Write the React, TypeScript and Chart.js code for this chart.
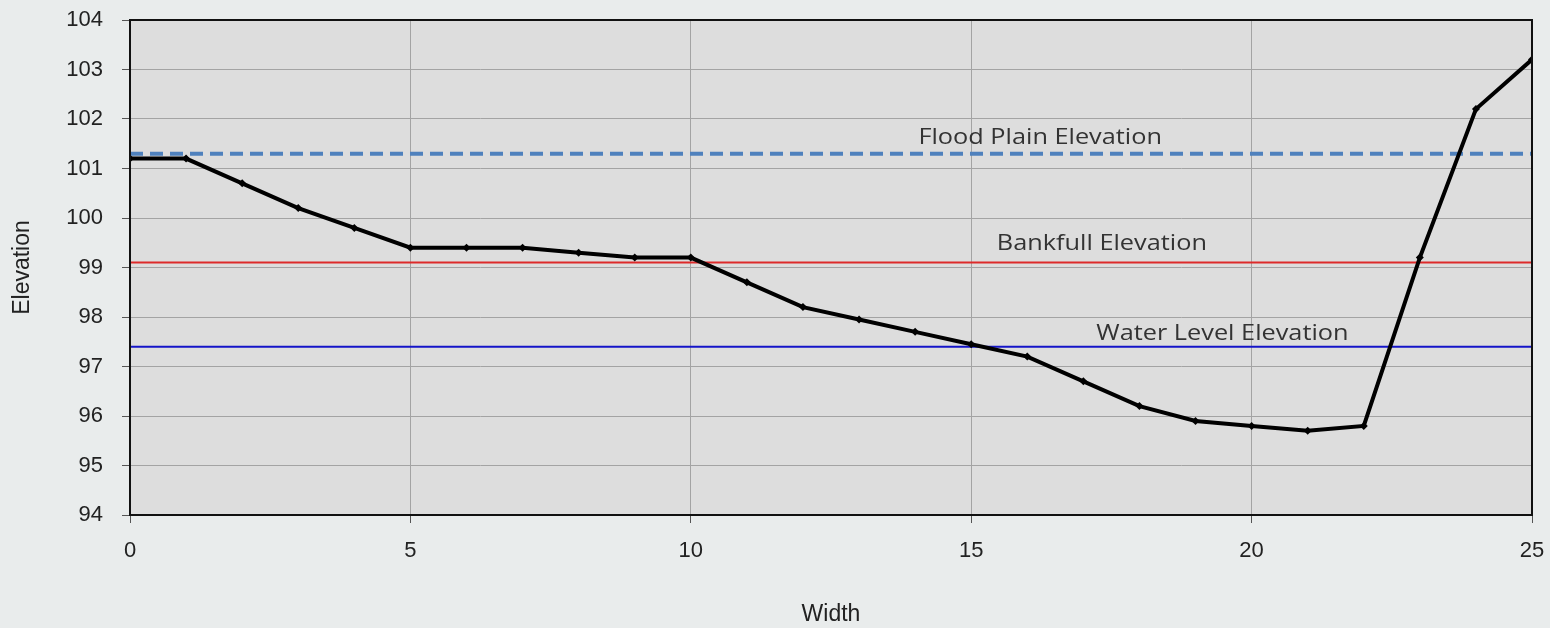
import React, { useEffect, useRef } from "react";
import { Chart, registerables } from "chart.js";

Chart.register(...registerables);

const widths = [0, 1, 2, 3, 4, 5, 6, 7, 8, 9, 10, 11, 12, 13, 14, 15, 16, 17, 18, 19, 20, 21, 22, 23, 24, 25];
const elevations = [101.2, 101.2, 100.7, 100.2, 99.8, 99.4, 99.4, 99.4, 99.3, 99.2, 99.2, 98.7, 98.2, 97.95, 97.7, 97.45, 97.2, 96.7, 96.2, 95.9, 95.8, 95.7, 95.8, 99.2, 102.2, 103.2];

const floodPlainElevation = 101.3;
const bankfullElevation = 99.1;
const waterLevelElevation = 97.4;

const levelNames = ["Flood Plain Elevation", "Bankfull Elevation", "Water Level Elevation"];
const levelLabelX = [16.23, 17.33, 19.48];
const levelLabelY = [101.5, 99.35, 97.54];

const xMin = 0;
const xMax = 25;
const yMin = 94;
const yMax = 104;

const tickFont = { family: '"Liberation Sans", Arial, sans-serif', size: 22 };
const titleFont = { family: '"Liberation Sans", Arial, sans-serif', size: 23 };

export default function App() {
  const ref = useRef<HTMLCanvasElement | null>(null);

  useEffect(() => {
    if (!ref.current) return;

    const bgPlugin = {
      id: "bgPlugin",
      beforeDraw(chart: any) {
        const { ctx, chartArea } = chart;
        ctx.save();
        ctx.fillStyle = "#e9ecec";
        ctx.fillRect(0, 0, chart.width, chart.height);
        ctx.fillStyle = "#dddddd";
        ctx.fillRect(chartArea.left, chartArea.top, chartArea.right - chartArea.left, chartArea.bottom - chartArea.top);
        ctx.restore();
      },
      afterDatasetsDraw(chart: any) {
        const { ctx, scales } = chart;
        ctx.save();
        ctx.fillStyle = "#333333";
        ctx.font = '22px "Open Sans", Lato, sans-serif';
        ctx.textAlign = "center";
        ctx.textBaseline = "alphabetic";
        levelNames.forEach((name, i) => {
          const px = scales.x.getPixelForValue(levelLabelX[i]);
          const py = scales.y.getPixelForValue(levelLabelY[i]);
          ctx.save();
          ctx.translate(px, py);
          ctx.scale(1.15, 1);
          ctx.fillText(name, 0, 0);
          ctx.restore();
        });
        ctx.restore();
      },
      afterDraw(chart: any) {
        const { ctx, chartArea } = chart;
        ctx.save();
        ctx.strokeStyle = "#111111";
        ctx.lineWidth = 2;
        ctx.strokeRect(chartArea.left, chartArea.top, chartArea.right - chartArea.left, chartArea.bottom - chartArea.top);
        ctx.restore();
      },
    };

    const chart = new Chart(ref.current, {
      type: "line",
      data: {
        datasets: [
          {
            label: "Profile",
            data: widths.map((w, i) => ({ x: w, y: elevations[i] })),
            borderColor: "#000000",
            backgroundColor: "#000000",
            borderWidth: 4,
            pointStyle: "rectRot",
            pointRadius: 4,
            pointBorderWidth: 0,
            order: 0,
          },
          {
            label: levelNames[0],
            data: [{ x: xMin, y: floodPlainElevation }, { x: xMax, y: floodPlainElevation }],
            borderColor: "#4f81bd",
            borderWidth: 4,
            borderDash: [13, 7],
            pointRadius: 0,
            order: 1,
          },
          {
            label: levelNames[1],
            data: [{ x: xMin, y: bankfullElevation }, { x: xMax, y: bankfullElevation }],
            borderColor: "#dd2a2a",
            borderWidth: 2,
            pointRadius: 0,
            order: 2,
          },
          {
            label: levelNames[2],
            data: [{ x: xMin, y: waterLevelElevation }, { x: xMax, y: waterLevelElevation }],
            borderColor: "#1414c8",
            borderWidth: 2,
            pointRadius: 0,
            order: 3,
          },
        ],
      },
      options: {
        animation: false,
        responsive: true,
        maintainAspectRatio: false,
        layout: { padding: { top: 20, right: 18, left: 0, bottom: 0 } },
        plugins: { legend: { display: false }, tooltip: { enabled: false } },
        scales: {
          x: {
            type: "linear",
            min: xMin,
            max: xMax,
            afterFit(scale: any) {
              scale.height = 113;
              scale.paddingLeft = 0;
              scale.paddingRight = 0;
            },
            ticks: {
              stepSize: 5,
              padding: 15,
              color: "#222222",
              font: tickFont,
            },
            grid: {
              color: "#a3a3a3",
              lineWidth: 1,
              tickLength: 8,
              tickColor: "#555555",
            },
            border: { display: false },
            title: {
              display: true,
              text: "Width",
              color: "#222222",
              font: titleFont,
              padding: { top: 0, bottom: 0 },
            },
          },
          y: {
            type: "linear",
            min: yMin,
            max: yMax,
            afterFit(scale: any) {
              scale.width = 130;
              scale.paddingTop = 0;
              scale.paddingBottom = 0;
            },
            ticks: {
              stepSize: 1,
              padding: 19,
              color: "#222222",
              font: tickFont,
            },
            grid: {
              color: "#a3a3a3",
              lineWidth: 1,
              tickLength: 8,
              tickColor: "#555555",
            },
            border: { display: false },
            title: {
              display: true,
              text: "Elevation",
              color: "#222222",
              font: titleFont,
              padding: { top: 9, bottom: 0 },
            },
          },
        },
      },
      plugins: [bgPlugin],
    } as any);

    return () => chart.destroy();
  }, []);

  return (
    <div style={{ position: "fixed", left: 0, top: 0, width: 1550, height: 628 }}>
      <canvas ref={ref} />
    </div>
  );
}
